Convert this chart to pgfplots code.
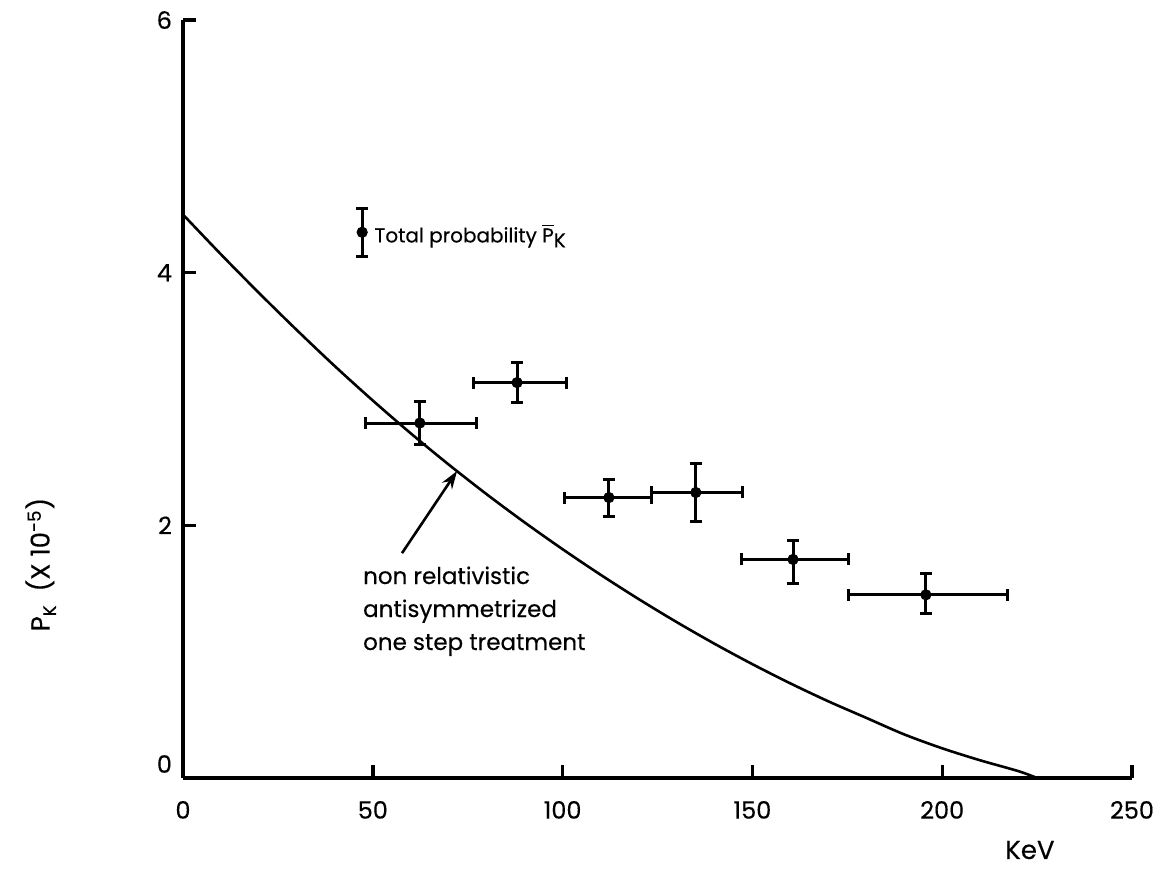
\documentclass[border=0pt]{standalone}
\usepackage{pgfplots}
\pgfplotsset{compat=1.18}
\usepackage{fontspec}
\setmainfont{Poppins}[FakeBold=0.35]
\usetikzlibrary{arrows.meta}

\begin{document}
\begin{tikzpicture}
\useasboundingbox (0,0) rectangle (581pt,434pt);
\begin{axis}[
  at={(91.5pt,45pt)}, anchor=south west,
  scale only axis, width=474.5pt, height=379pt,
  xmin=0, xmax=250, ymin=0, ymax=6,
  axis lines=left,
  axis line style={-, line width=1.7pt},
  tick align=inside, major tick length=6.5pt,
  tick style={line width=1.7pt, black},
  xtick={0,50,...,250}, ytick={2,4,6},
  extra y ticks={0},
  extra y tick style={yticklabel style={yshift=7pt}, major tick length=0pt},
  tick label style={font=\fontsize{12}{14}\selectfont},
  /pgf/number format/assume math mode=true,
  xticklabel style={yshift=-8pt},
  yticklabel style={xshift=-2pt},
  clip=false,
]

% theoretical curve: non relativistic antisymmetrized one step treatment
\addplot[line width=1.3pt, smooth, black] coordinates {
  (0,4.46) (10,4.145) (20,3.84) (30,3.545) (40,3.26) (50,2.988)
  (60,2.728) (70,2.481) (80,2.246) (90,2.023) (100,1.811) (110,1.609)
  (120,1.417) (130,1.235) (140,1.063) (150,0.901) (160,0.749) (170,0.607)
  (180,0.476) (190,0.345) (200,0.235) (210,0.14) (220,0.055) (225,0)
};

% measured total probability with energy bins and errors
\addplot[only marks, mark=*, mark size=2.6pt, black,
  error bars/.cd, x dir=both, x explicit, y dir=both, y explicit,
  error bar style={line width=1.5pt, black},
  error mark=-,
  error mark options={rotate=90, line width=1.5pt, mark size=3pt, black}]
coordinates {
  (62.4,2.81)  += (15.0,0.17) -= (14.2,0.17)
  (88.0,3.13)  += (12.9,0.16) -= (11.6,0.16)
  (112.2,2.22) += (11.3,0.14) -= (11.6,0.15)
  (135.1,2.26) += (12.2,0.23) -= (11.6,0.23)
  (160.7,1.73) += (14.7,0.15) -= (13.7,0.19)
  (195.7,1.45) += (21.4,0.17) -= (20.5,0.15)
};

% key symbol
\addplot[only marks, mark=*, mark size=2.6pt, black,
  error bars/.cd, y dir=both, y explicit,
  error bar style={line width=1.5pt, black},
  error mark=-,
  error mark options={rotate=90, line width=1.5pt, mark size=3pt, black}]
coordinates {(47.2,4.32) +- (0,0.19)};

\node[anchor=west, font=\fontsize{10}{12}\selectfont]
  at (axis cs:48.6,4.29) {Total probability $\overline{\hbox{P}}$\raisebox{-0.45ex}{K}};

\node[anchor=west, align=left, font=\fontsize{11.5}{16.5}\selectfont]
  at (axis cs:45.6,1.32) {non relativistic\\antisymmetrized\\one step treatment};

\draw[line width=1.3pt, -{Stealth[length=9pt,width=6pt]}]
  (axis cs:57.7,1.78) -- (axis cs:72.2,2.43);

\node[font=\fontsize{13}{15}\selectfont] at (axis cs:223.1,-0.57) {KeV};

\node[rotate=90, font=\fontsize{13}{15}\selectfont]
  at (axis cs:-37.5,1.69) {P\raisebox{-0.45ex}{\small K}\ \ (X 10\textsuperscript{-5})};
\end{axis}
\end{tikzpicture}
\end{document}
